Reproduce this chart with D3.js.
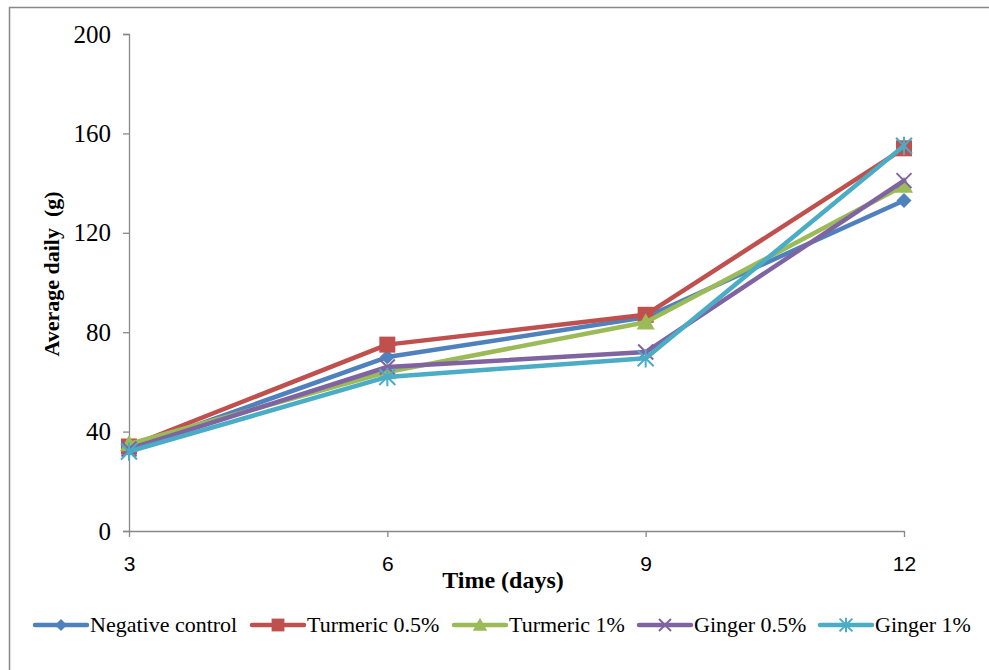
<!DOCTYPE html>
<html>
<head>
<meta charset="utf-8">
<script src="https://cdn.jsdelivr.net/npm/d3@7"></script>
<style>
  body { margin: 0; background: #fff; }
  svg { display: block; }
</style>
</head>
<body>
<svg id="chart" width="989" height="670"></svg>
<script>
// Time points (days) and tick values
const days = ["3", "6", "9", "12"];
const yTicks = [0, 40, 80, 120, 160, 200];

// Average daily values (g) per treatment
const negativeControl = [33, 70, 86, 133];
const turmeric05 = [34, 75, 87, 154];
const turmeric1 = [35, 64, 84, 139];
const ginger05 = [33, 66, 72, 141];
const ginger1 = [32, 62, 69.5, 155];

const seriesNames = ["Negative control", "Turmeric 0.5%", "Turmeric 1%", "Ginger 0.5%", "Ginger 1%"];
const seriesValues = [negativeControl, turmeric05, turmeric1, ginger05, ginger1];
const seriesColors = ["#4F81BD", "#C0504D", "#9BBB59", "#8064A2", "#4BACC6"];
const seriesMarkers = ["diamond", "square", "triangle", "x", "star"];

const svg = d3.select("#chart");
const serif = "'Liberation Serif', 'Times New Roman', serif";
const sans = "'Liberation Sans', Arial, sans-serif";

// Outer frame
svg.append("rect")
  .attr("x", 9.5).attr("y", 7.5)
  .attr("width", 990).attr("height", 680)
  .attr("fill", "none").attr("stroke", "#888").attr("stroke-width", 1.5);

const plot = { left: 129, right: 904, top: 34, bottom: 531 };

const x = d3.scalePoint().domain(days).range([plot.left, plot.right]);
const y = d3.scaleLinear().domain([0, 200]).range([plot.bottom, plot.top]);

// Y axis
const yAxis = svg.append("g")
  .attr("transform", `translate(${plot.left},0)`)
  .call(d3.axisLeft(y).tickValues(yTicks).tickSize(6).tickPadding(12));
yAxis.select(".domain").attr("stroke", "#888").attr("stroke-width", 1.3);
yAxis.selectAll(".tick line").attr("stroke", "#888").attr("stroke-width", 1.3);
yAxis.selectAll(".tick text")
  .style("font-family", serif).style("font-size", "25px").attr("fill", "#000");

// X axis
const xAxis = svg.append("g")
  .attr("transform", `translate(0,${plot.bottom})`)
  .call(d3.axisBottom(x).tickSize(6).tickSizeOuter(0).tickPadding(19));
xAxis.select(".domain").attr("stroke", "#888").attr("stroke-width", 1.3);
xAxis.selectAll(".tick line").attr("stroke", "#888").attr("stroke-width", 1.3);
xAxis.selectAll(".tick text")
  .style("font-family", sans).style("font-size", "21px").attr("fill", "#000");

// Axis titles
svg.append("text")
  .attr("x", 503).attr("y", 588)
  .attr("text-anchor", "middle")
  .style("font-family", serif).style("font-weight", "bold").style("font-size", "24px")
  .text("Time (days)");

svg.append("text")
  .attr("transform", "translate(59,274) rotate(-90)")
  .attr("text-anchor", "middle")
  .style("font-family", serif).style("font-weight", "bold").style("font-size", "22px")
  .style("white-space", "pre")
  .text("Average daily  (g)");

// Marker drawing
function drawMarker(g, kind, color, cx, cy, s) {
  const sz = s || 1;
  if (kind === "diamond") {
    const r = 7.5 * sz;
    g.append("path")
      .attr("d", `M${cx},${cy - r}L${cx + r},${cy}L${cx},${cy + r}L${cx - r},${cy}Z`)
      .attr("fill", color);
  } else if (kind === "square") {
    const r = 8 * sz;
    g.append("rect").attr("x", cx - r).attr("y", cy - r)
      .attr("width", 2 * r).attr("height", 2 * r).attr("fill", color);
  } else if (kind === "triangle") {
    const r = 9 * sz;
    g.append("path")
      .attr("d", `M${cx},${cy - r}L${cx + r},${cy + r * 0.8}L${cx - r},${cy + r * 0.8}Z`)
      .attr("fill", color);
  } else if (kind === "x") {
    const r = 7.5 * sz;
    g.append("path")
      .attr("d", `M${cx - r},${cy - r}L${cx + r},${cy + r}M${cx + r},${cy - r}L${cx - r},${cy + r}`)
      .attr("stroke", color).attr("stroke-width", 2).attr("fill", "none");
  } else if (kind === "star") {
    const r = 8 * sz;
    g.append("path")
      .attr("d", `M${cx - r},${cy - r}L${cx + r},${cy + r}M${cx + r},${cy - r}L${cx - r},${cy + r}M${cx},${cy - r * 1.15}L${cx},${cy + r * 1.15}`)
      .attr("stroke", color).attr("stroke-width", 2).attr("fill", "none");
  }
}

// Series lines and markers
const line = d3.line()
  .x((d, i) => x(days[i]))
  .y(d => y(d));

const seriesG = svg.append("g");
seriesValues.forEach((vals, si) => {
  const g = seriesG.append("g");
  g.append("path")
    .datum(vals)
    .attr("d", line)
    .attr("fill", "none")
    .attr("stroke", seriesColors[si])
    .attr("stroke-width", 4.5)
    .attr("stroke-linejoin", "round")
    .attr("stroke-linecap", "round");
  vals.forEach((v, i) => drawMarker(g, seriesMarkers[si], seriesColors[si], x(days[i]), y(v)));
});

// Legend
const legendX = [35, 252, 454, 639, 820];
const legendY = 625;
const legend = svg.append("g");
seriesNames.forEach((name, i) => {
  const lx = legendX[i];
  legend.append("line")
    .attr("x1", lx).attr("x2", lx + 52)
    .attr("y1", legendY).attr("y2", legendY)
    .attr("stroke", seriesColors[i]).attr("stroke-width", 4.5)
    .attr("stroke-linecap", "round");
  drawMarker(legend, seriesMarkers[i], seriesColors[i], lx + 26, legendY, 0.8);
  legend.append("text")
    .attr("x", lx + 55).attr("y", legendY + 7)
    .style("font-family", serif).style("font-size", "22px").attr("fill", "#000")
    .text(name);
});
</script>
</body>
</html>
